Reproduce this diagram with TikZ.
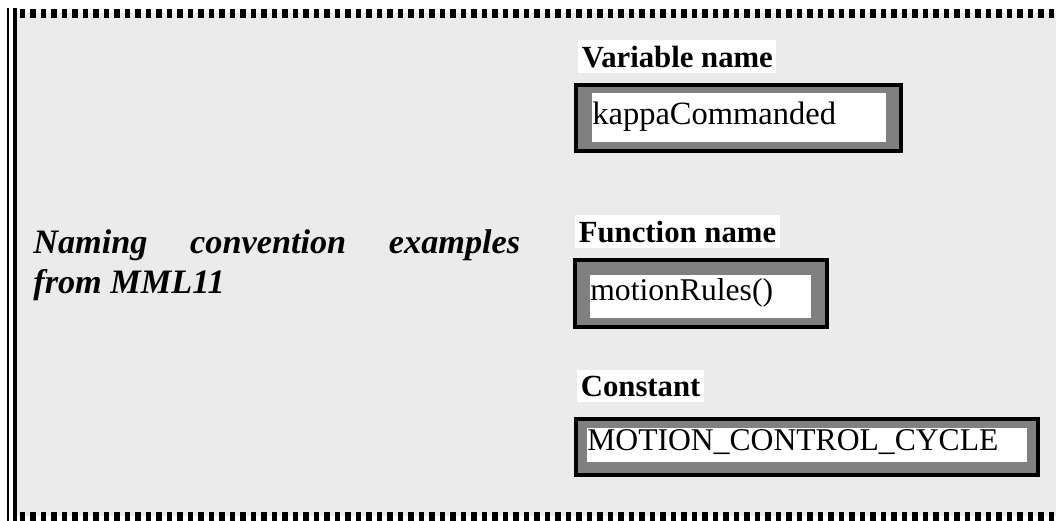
\documentclass[tikz,border=0pt]{standalone}
\usepackage{fontspec}
\setmainfont{Liberation Serif}

\begin{document}
\begin{tikzpicture}[x=0.02cm,y=-0.02cm,
  head/.style={anchor=base west,inner xsep=2pt,inner ysep=3pt,fill=cin,
    font=\fontsize{17.5}{21}\selectfont\bfseries},
  frame/.style={draw=cfr,fill=cbx,line width=0.08cm,inner sep=0pt},
  field/.style={anchor=base west,fill=cin,inner sep=0pt,align=left,
    font=\fontsize{18}{21}\selectfont},
  rim/.style={draw=cfr,line width=0.18cm,dash pattern=on 0.11cm off 0.1cm}]
\definecolor{cfr}{rgb}{0.0,0.0,0.0}
\definecolor{cbg}{rgb}{0.92,0.92,0.92}
\definecolor{cbx}{rgb}{0.5,0.5,0.5}
\definecolor{cin}{rgb}{1.0,1.0,1.0}
\useasboundingbox (0,0) rectangle (1056,521);
%
\fill[cbg] (17,13) rectangle (1056,516);
\draw[rim] (20,13) -- (1056,13);
\draw[rim] (20,516) -- (1056,516);
\draw[cfr,line width=0.05cm] (8,8) -- (8,521);
\draw[cfr,line width=0.08cm] (15,8) -- (15,521);
%
\node[anchor=north west,inner sep=0pt,text width=9.74cm,align=justify,
  font=\fontsize{19.5}{22.8}\selectfont\bfseries\itshape] (title) at (33,229)
  {Naming convention examples\linebreak from MML11};
%
\node[head] (varname) at (578,67) {Variable name};
\node[frame,minimum width=6.5cm,minimum height=1.32cm] (kappaframe) at (738.5,118) {};
\node[field,text width=5.88cm,text height=0.62cm,text depth=0.36cm,
  font=\fontsize{18.5}{21}\selectfont] (kappa) at (592,124) {kappaCommanded};
%
\node[head] (funcname) at (575,242) {Function name};
\node[frame,minimum width=5.04cm,minimum height=1.34cm] (motionframe) at (701,293.5) {};
\node[field,text width=4.42cm,text height=0.5cm,text depth=0.36cm] (motion) at (590,300) {motionRules()};
%
\node[head] (constname) at (577,396) {Constant};
\node[frame,minimum width=9.24cm,minimum height=1.12cm] (cycleframe) at (807,447) {};
\node[field,text width=8.8cm,text height=0.44cm,text depth=0.24cm] (cycle) at (587,450) {MOTION\_CONTROL\_CYCLE};
%
\end{tikzpicture}
\end{document}
